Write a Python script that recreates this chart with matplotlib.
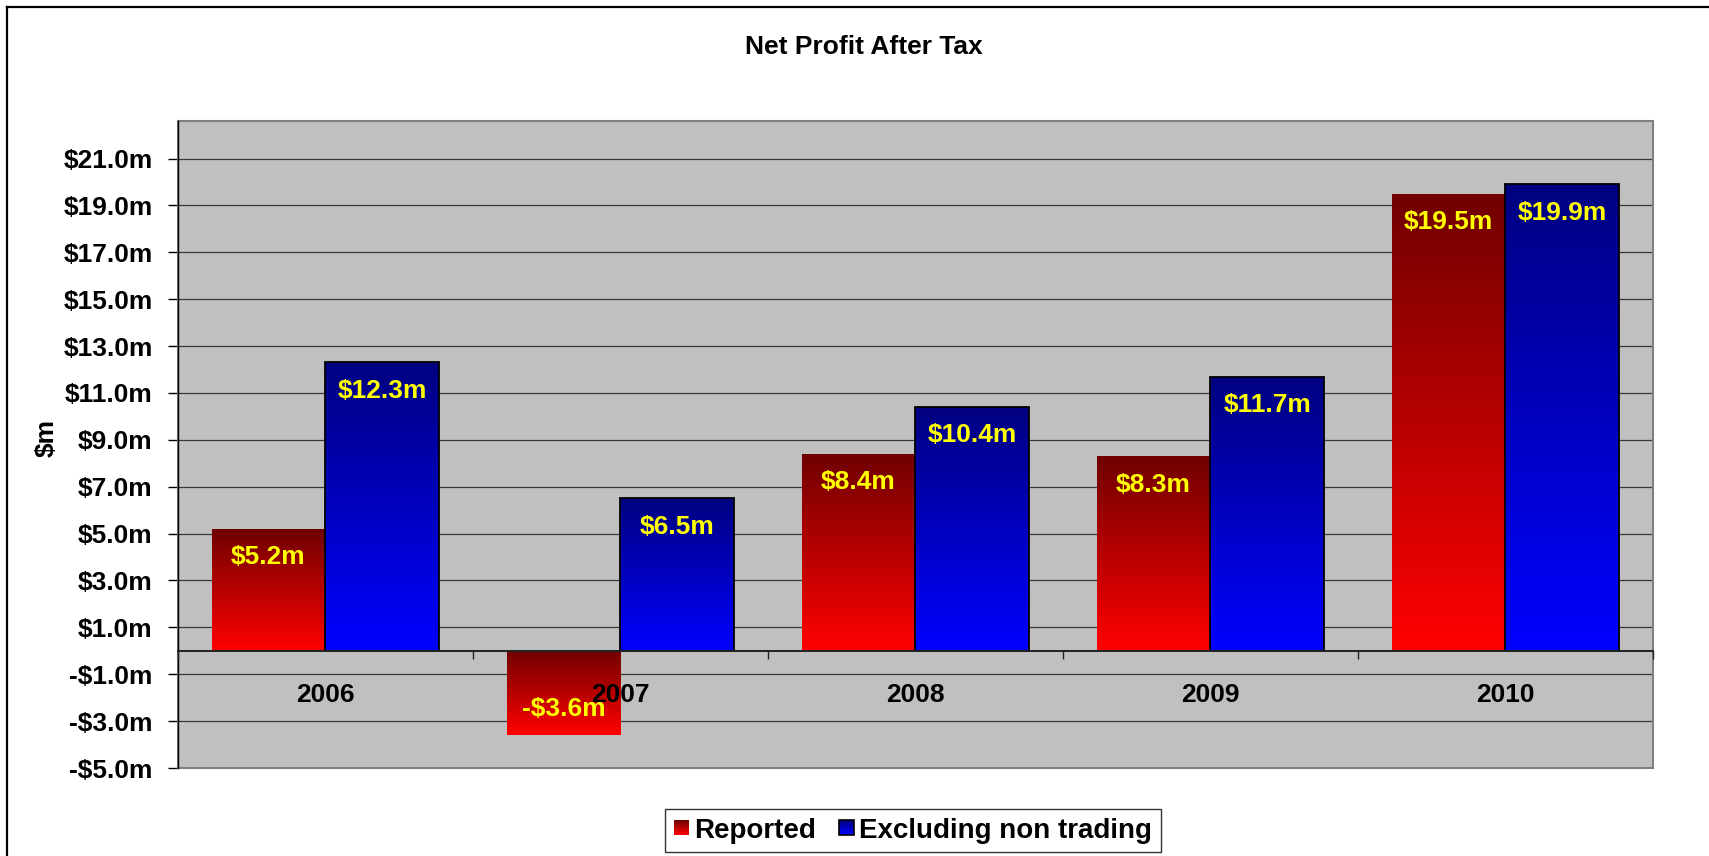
import numpy as np
import matplotlib
matplotlib.use("Agg")
import matplotlib.pyplot as plt
from matplotlib.patches import Rectangle
from matplotlib.lines import Line2D
from matplotlib.colors import LinearSegmentedColormap
from matplotlib.legend_handler import HandlerBase
from matplotlib.ticker import FuncFormatter, FixedLocator

plt.rcParams['font.family'] = ['Liberation Sans', 'DejaVu Sans']
plt.rcParams['font.weight'] = 'bold'

years = ['2006', '2007', '2008', '2009', '2010']
reported = [5.2, -3.6, 8.4, 8.3, 19.5]
excluding = [12.3, 6.5, 10.4, 11.7, 19.9]
series_names = ['Reported', 'Excluding non trading']
y_ticks = [-5, -3, -1, 1, 3, 5, 7, 9, 11, 13, 15, 17, 19, 21]

W, H = 1709, 856
fig = plt.figure(figsize=(W / 100, H / 100), dpi=100)
ax = fig.add_axes([177.7 / W, 1 - 768 / H, (1653 - 177.7) / W, (768 - 121) / H])
ax.set_facecolor('#C0C0C0')

red_cmap = LinearSegmentedColormap.from_list('r', ['#700000', '#FF0000'])
blue_cmap = LinearSegmentedColormap.from_list('b', ['#000080', '#0000FF'])

x = np.arange(len(years))
bw = 0.385
ylim = (-5, 22.6)

ax.yaxis.grid(True, color='#3a3a3a', linewidth=0.9, zorder=0)
ax.set_axisbelow(True)

grad = np.linspace(0, 1, 256).reshape(-1, 1)

def gradient_bars(xs, vals, cmap, edge, lw):
    bars = ax.bar(xs, vals, width=bw, align='edge', facecolor='none',
                  edgecolor=edge, linewidth=lw, zorder=3)
    for rect in bars:
        x0 = rect.get_x()
        x1 = x0 + rect.get_width()
        y0 = min(rect.get_y(), rect.get_y() + rect.get_height())
        y1 = max(rect.get_y(), rect.get_y() + rect.get_height())
        im = ax.imshow(grad, cmap=cmap, extent=(x0, x1, y0, y1), origin='upper',
                       aspect='auto', zorder=2, interpolation='bilinear')
        im.set_clip_path(rect)
    return bars

b1 = gradient_bars(x - bw, reported, red_cmap, 'none', 0)
b2 = gradient_bars(x, excluding, blue_cmap, 'black', 1.3)

ax.set_xlim(-0.5, len(years) - 0.5)
ax.set_ylim(*ylim)

# data labels
for xs, vals in ((x - bw / 2, reported), (x + bw / 2, excluding)):
    for xi, v in zip(xs, vals):
        lab = ('-$%.1fm' % abs(v)) if v < 0 else ('$%.1fm' % v)
        off = -20.5 if v >= 0 else 19
        ax.annotate(lab, xy=(xi, v), xytext=(0, off), textcoords='offset points',
                    ha='center', va='center', color='#FFFF00', fontsize=19,
                    fontweight='bold', zorder=6)

# spines
for s in ('top', 'right'):
    ax.spines[s].set_visible(False)
ax.spines['bottom'].set_position(('data', 0))
ax.spines['bottom'].set_color('#222222')
ax.spines['bottom'].set_linewidth(1.4)
ax.spines['bottom'].set_zorder(4)
ax.spines['left'].set_color('black')
ax.spines['left'].set_linewidth(1.0)
ax.add_patch(Rectangle((0, 0), 1, 1, transform=ax.transAxes, fill=False,
                       edgecolor='#808080', linewidth=1.5, zorder=1, clip_on=False))

# y axis
ax.yaxis.set_major_locator(FixedLocator(y_ticks))
ax.yaxis.set_major_formatter(FuncFormatter(
    lambda v, p: ('-$%.1fm' % abs(v)) if v < 0 else ('$%.1fm' % v)))
ax.tick_params(axis='y', length=7, width=1, direction='out', pad=11,
               labelsize=19, colors='black')

# x axis (category labels drawn above the bars, as in the reference)
ax.set_xticks(x)
ax.set_xticklabels(years)
ax.set_xticks(np.arange(-0.5, len(years)), minor=True)
ax.tick_params(axis='x', which='major', length=0, pad=23, labelsize=19)
ax.tick_params(axis='x', which='minor', length=6, width=1, direction='out',
               color='#222222')
ax.xaxis.set_zorder(4.5)

# title and axis label
fig.text(864 / W, 1 - 46.7 / H, 'Net Profit After Tax', ha='center', va='center',
         fontsize=19, fontweight='bold')
fig.text(47 / W, 1 - 438 / H, '$m', ha='center', va='center', rotation=90,
         fontsize=19, fontweight='bold')

# figure border (only left and top edges are visible in the reference)
bx, by = 7.5 / W, 1 - 6.9 / H
fig.lines.append(Line2D([bx, bx], [0, by], transform=fig.transFigure,
                        color='black', linewidth=1.6))
fig.lines.append(Line2D([bx, 1], [by, by], transform=fig.transFigure,
                        color='black', linewidth=1.6))


class GradHandler(HandlerBase):
    def __init__(self, cmap, edge):
        super().__init__()
        self.cmap = cmap
        self.edge = edge

    def create_artists(self, legend, orig_handle, xdescent, ydescent, width,
                       height, fontsize, trans):
        n = 20
        arts = []
        side = min(width, height)
        x0 = -xdescent + (width - side) / 2
        y0 = -ydescent + (height - side) / 2
        for i in range(n):
            c = self.cmap(1 - i / (n - 1))
            r = Rectangle((x0, y0 + side * i / n), side, side / n + 0.3,
                          facecolor=c, edgecolor='none', transform=trans)
            arts.append(r)
        if self.edge != 'none':
            arts.append(Rectangle((x0, y0), side, side, facecolor='none',
                                  edgecolor=self.edge, linewidth=1.2, transform=trans))
        return arts

h1 = Rectangle((0, 0), 1, 1, label=series_names[0])
h2 = Rectangle((0, 0), 1, 1, label=series_names[1])
leg = fig.legend(handles=[h1, h2], loc='center', bbox_to_anchor=(913 / W, 1 - 830.5 / H),
                 ncol=2, fontsize=20, frameon=True, fancybox=False, edgecolor='black',
                 handlelength=0.55, handleheight=0.55, handletextpad=0.2,
                 columnspacing=0.8, borderpad=0.3,
                 handler_map={h1: GradHandler(red_cmap, 'none'),
                              h2: GradHandler(blue_cmap, 'black')})
leg.get_frame().set_linewidth(1.0)
for t in leg.get_texts():
    t.set_fontweight('bold')

fig.savefig('out.png', dpi=100)
